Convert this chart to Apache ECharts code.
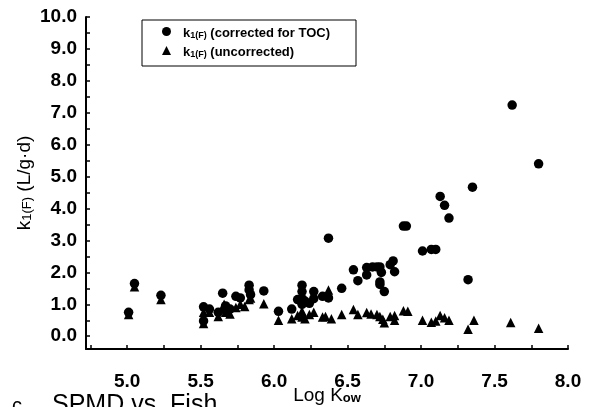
<!DOCTYPE html>
<html>
<head>
<meta charset="utf-8">
<script src="https://cdn.jsdelivr.net/npm/echarts@6/dist/echarts.min.js"></script>
<style>
html,body{margin:0;padding:0;background:#fff;}
#chart{width:599px;height:407px;}
</style>
</head>
<body>
<div id="chart"></div>
<script>
// k1(F) corrected for TOC
const corrLogKow = [5.01,5.05,5.23,5.52,5.52,5.56,5.62,5.65,5.67,5.70,5.74,5.77,5.83,5.83,5.84,5.93,
  6.03,6.12,6.16,6.19,6.19,6.19,6.19,6.21,6.24,6.27,6.27,6.33,6.37,6.37,6.46,
  6.54,6.57,6.63,6.63,6.67,6.70,6.72,6.72,6.72,6.73,6.75,6.79,6.81,6.82,6.88,6.90,
  7.01,7.07,7.10,7.13,7.16,7.19,7.32,7.35,7.62,7.80];
const corrK1 = [0.75,1.65,1.28,0.92,0.48,0.85,0.75,1.35,0.95,0.85,1.25,1.20,1.60,1.45,1.30,1.42,
  0.78,0.85,1.15,1.60,1.40,1.18,1.00,1.10,1.03,1.40,1.18,1.25,3.07,1.20,1.50,
  2.08,1.74,2.15,1.92,2.17,2.17,2.17,1.70,1.62,2.00,1.40,2.24,2.36,2.02,3.45,3.45,
  2.67,2.72,2.72,4.38,4.10,3.70,1.77,4.67,7.24,5.40];
// k1(F) uncorrected
const uncLogKow = [5.01,5.05,5.23,5.52,5.52,5.56,5.62,5.65,5.66,5.67,5.70,5.74,5.77,5.80,5.83,5.84,5.93,
  6.03,6.12,6.16,6.19,6.19,6.21,6.24,6.27,6.33,6.35,6.37,6.39,6.46,
  6.54,6.57,6.63,6.66,6.70,6.72,6.74,6.75,6.79,6.82,6.82,6.88,6.91,
  7.01,7.07,7.10,7.13,7.16,7.19,7.32,7.36,7.61,7.80];
const uncK1 = [0.68,1.55,1.15,0.75,0.40,0.75,0.62,0.85,1.00,0.75,0.70,0.90,1.00,0.93,1.15,1.20,1.02,
  0.50,0.55,0.65,0.78,0.60,0.55,0.68,0.75,0.60,0.62,1.45,0.55,0.68,
  0.84,0.68,0.74,0.70,0.68,0.62,0.53,0.42,0.62,0.65,0.50,0.80,0.78,
  0.50,0.44,0.48,0.65,0.58,0.50,0.22,0.50,0.43,0.25];
const seriesNames = ['corr', 'unc'];
const legendLabels = {
  corr: '{k|k}{s|1(F)}{t| (corrected for TOC)}',
  unc: '{k|k}{s|1(F)}{t| (uncorrected)}'
};

const chart = echarts.init(document.getElementById('chart'), null, {renderer: 'canvas'});
const FONT = '"Liberation Sans", Arial, sans-serif';
const pair = (xs, ys) => xs.map((x, i) => [x, ys[i]]);

chart.setOption({
  animation: false,
  backgroundColor: '#fff',
  textStyle: {fontFamily: FONT, color: '#000'},
  grid: {left: 86, right: 31, top: 17, bottom: 58, containLabel: false, outerBoundsMode: 'none'},
  legend: {
    left: 142, top: 20, orient: 'vertical',
    padding: [7, 26, 7, 20],
    itemWidth: 9, itemHeight: 9, itemGap: 6,
    borderColor: '#000', borderWidth: 1, borderRadius: 0,
    data: [{name: 'corr', icon: 'circle'}, {name: 'unc', icon: 'triangle'}],
    formatter: name => legendLabels[name],
    textStyle: {
      fontFamily: FONT, color: '#000',
      rich: {
        k: {fontFamily: FONT, fontSize: 13, fontWeight: 'bold', color: '#000', padding: [0, 0, 0, 7], verticalAlign: 'bottom', lineHeight: 17},
        s: {fontFamily: FONT, fontSize: 9, fontWeight: 'bold', color: '#000', verticalAlign: 'bottom', lineHeight: 9},
        t: {fontFamily: FONT, fontSize: 13, fontWeight: 'bold', color: '#000', verticalAlign: 'bottom', lineHeight: 17}
      }
    }
  },
  xAxis: {
    type: 'value', min: 4.72, max: 8.0,
    minInterval: 0.25, maxInterval: 0.25,
    splitLine: {show: false},
    axisLine: {show: true, onZero: false, lineStyle: {color: '#000', width: 2}},
    axisTick: {show: true, inside: true, length: 4, lineStyle: {color: '#000', width: 1.5}},
    axisLabel: {
      interval: 0, margin: 23, color: '#000', fontFamily: FONT, fontSize: 19, fontWeight: 'bold',
      formatter: v => (Math.abs(v * 2 - Math.round(v * 2)) < 1e-6 && v >= 4.99) ? v.toFixed(1) : ''
    },
    name: '{a|Log K}{s|ow}',
    nameLocation: 'middle', nameGap: 34, nameMoveOverlap: false,
    nameTextStyle: {
      rich: {
        a: {fontFamily: FONT, fontSize: 19, color: '#000', verticalAlign: 'bottom', lineHeight: 22},
        s: {fontFamily: FONT, fontSize: 13, fontWeight: 'bold', color: '#000', verticalAlign: 'bottom', lineHeight: 12}
      }
    }
  },
  yAxis: {
    type: 'value', min: -0.4, max: 10,
    minInterval: 0.5, maxInterval: 0.5,
    splitLine: {show: false},
    axisLine: {show: true, onZero: false, lineStyle: {color: '#000', width: 2}},
    axisTick: {show: true, inside: true, length: 4, lineStyle: {color: '#000', width: 1.5}},
    axisLabel: {
      interval: 0, margin: 9, color: '#000', fontFamily: FONT, fontSize: 19, fontWeight: 'bold',
      formatter: v => (v >= -1e-6 && Math.abs(v - Math.round(v)) < 1e-6) ? v.toFixed(1) : ''
    },
    name: '{a|k}{s|1(F)}{a| (L/g·d)}',
    nameLocation: 'middle', nameGap: 52, nameMoveOverlap: false,
    nameTextStyle: {
      rich: {
        a: {fontFamily: FONT, fontSize: 19, color: '#000', verticalAlign: 'bottom', lineHeight: 24},
        s: {fontFamily: FONT, fontSize: 13, color: '#000', verticalAlign: 'bottom', lineHeight: 12}
      }
    }
  },
  series: [
    {
      name: 'corr', type: 'scatter', symbol: 'circle', symbolSize: 9.5,
      itemStyle: {color: '#000', opacity: 1},
      data: pair(corrLogKow, corrK1)
    },
    {
      name: 'unc', type: 'scatter', symbol: 'triangle', symbolSize: 9.5,
      itemStyle: {color: '#000', opacity: 1},
      data: pair(uncLogKow, uncK1)
    }
  ],
  graphic: [
    {type: 'text', left: 12, top: 396, style: {text: 'c', fontFamily: FONT, fontSize: 20, fill: '#000'}},
    {type: 'text', left: 52, top: 393, style: {text: 'SPMD vs. Fish', fontFamily: FONT, fontSize: 25, fill: '#000'}}
  ]
});
</script>
</body>
</html>
